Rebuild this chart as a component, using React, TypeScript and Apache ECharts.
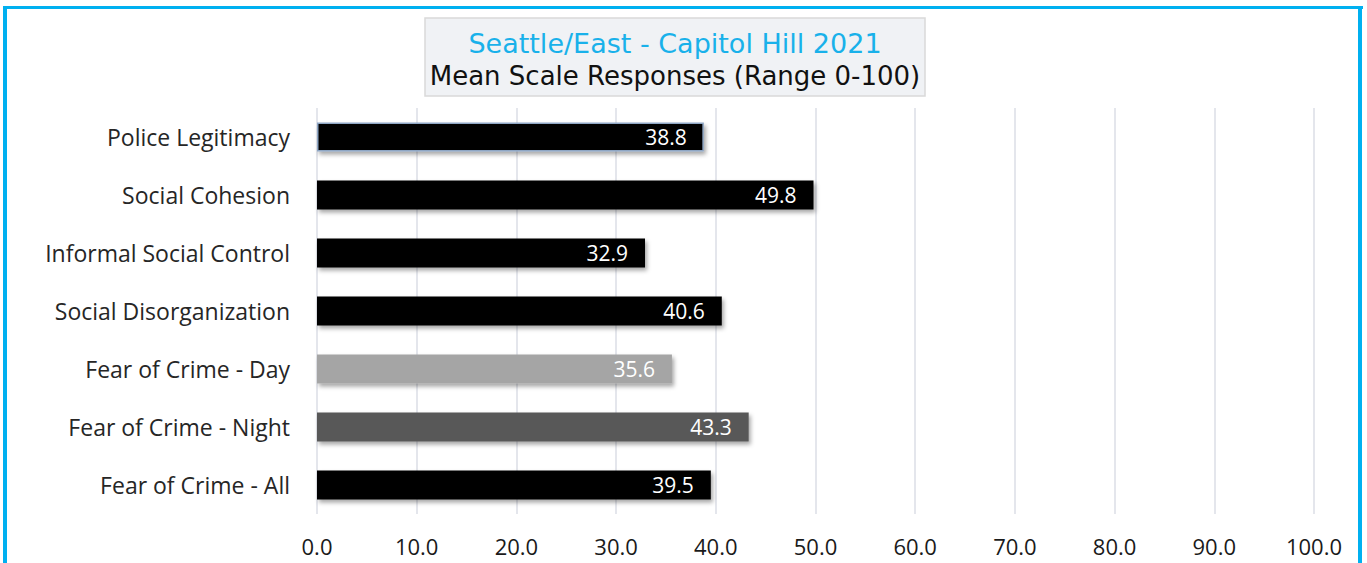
import React, { useEffect, useRef } from "react";
import * as echarts from "echarts";

const categories = [
  "Police Legitimacy",
  "Social Cohesion",
  "Informal Social Control",
  "Social Disorganization",
  "Fear of Crime - Day",
  "Fear of Crime - Night",
  "Fear of Crime - All",
];
const values = [38.8, 49.8, 32.9, 40.6, 35.6, 43.3, 39.5];
const barColors = ["#000000", "#000000", "#000000", "#000000", "#a5a5a5", "#595959", "#000000"];
const titleLine1 = "Seattle/East - Capitol Hill 2021";
const titleLine2 = "Mean Scale Responses (Range 0-100)";

export default function App() {
  const ref = useRef<HTMLDivElement>(null);
  useEffect(() => {
    const chart = echarts.init(ref.current!, null, { renderer: "svg" });
    chart.setOption({
      animation: false,
      backgroundColor: "#ffffff",
      grid: { left: 317, right: 53, top: 108, bottom: 49, containLabel: false },
      xAxis: {
        type: "value",
        min: 0,
        max: 100,
        interval: 10,
        axisLine: { show: false },
        axisTick: { show: false },
        splitLine: { show: true, lineStyle: { color: "#e4e6ec", width: 2 } },
        axisLabel: {
          formatter: (v: number) => v.toFixed(1),
          fontSize: 22,
          color: "#1a1a1a",
          margin: 21,
          fontFamily: "Open Sans",
        },
      },
      yAxis: {
        type: "category",
        data: categories,
        inverse: true,
        axisLine: { show: false },
        axisTick: { show: false },
        splitLine: { show: false },
        axisLabel: { fontSize: 23, color: "#262626", margin: 27, fontFamily: "Open Sans" },
      },
      series: [
        {
          type: "bar",
          barWidth: "50%",
          data: values.map((v, i) => ({
            value: v,
            itemStyle: {
              color: barColors[i],
              borderColor: i === 0 ? "#8ea6c4" : barColors[i],
              borderWidth: i === 0 ? 1.5 : 0,
              shadowBlur: 4,
              shadowOffsetX: 2,
              shadowOffsetY: 3,
              shadowColor: "rgba(0,0,0,0.35)",
            },
          })),
          label: {
            show: true,
            position: "insideRight",
            distance: 17,
            color: "#ffffff",
            fontSize: 21,
            fontFamily: "Open Sans",
            formatter: (p: any) => Number(p.value).toFixed(1),
          },
        },
      ],
      graphic: [
        {
          type: "rect",
          shape: { x: 425, y: 18, width: 500, height: 78 },
          style: { fill: "#f0f2f5", stroke: "#d9d9d9", lineWidth: 1.5 },
          z: 10,
        },
        {
          type: "text",
          x: 675,
          y: 43,
          style: {
            text: titleLine1,
            fill: "#19b1ea",
            fontSize: 27,
            fontFamily: "DejaVu Sans",
            align: "center",
            verticalAlign: "middle",
          },
          z: 11,
        },
        {
          type: "text",
          x: 675,
          y: 76,
          style: {
            text: titleLine2,
            fill: "#111111",
            fontSize: 26,
            fontFamily: "DejaVu Sans",
            align: "center",
            verticalAlign: "middle",
          },
          z: 11,
        },
        {
          type: "rect",
          shape: { x: 3, y: 6, width: 4, height: 560 },
          style: { fill: "#00b0f0" },
          z: 12,
        },
        {
          type: "rect",
          shape: { x: 3, y: 6, width: 1360, height: 3 },
          style: { fill: "#00b0f0" },
          z: 12,
        },
        {
          type: "rect",
          shape: { x: 1358, y: 6, width: 4, height: 560 },
          style: { fill: "#00b0f0" },
          z: 12,
        },
      ],
    });
    return () => chart.dispose();
  }, []);
  return (
    <div
      ref={ref}
      style={{ position: "fixed", left: 0, top: 0, width: 1367, height: 563 }}
    />
  );
}
